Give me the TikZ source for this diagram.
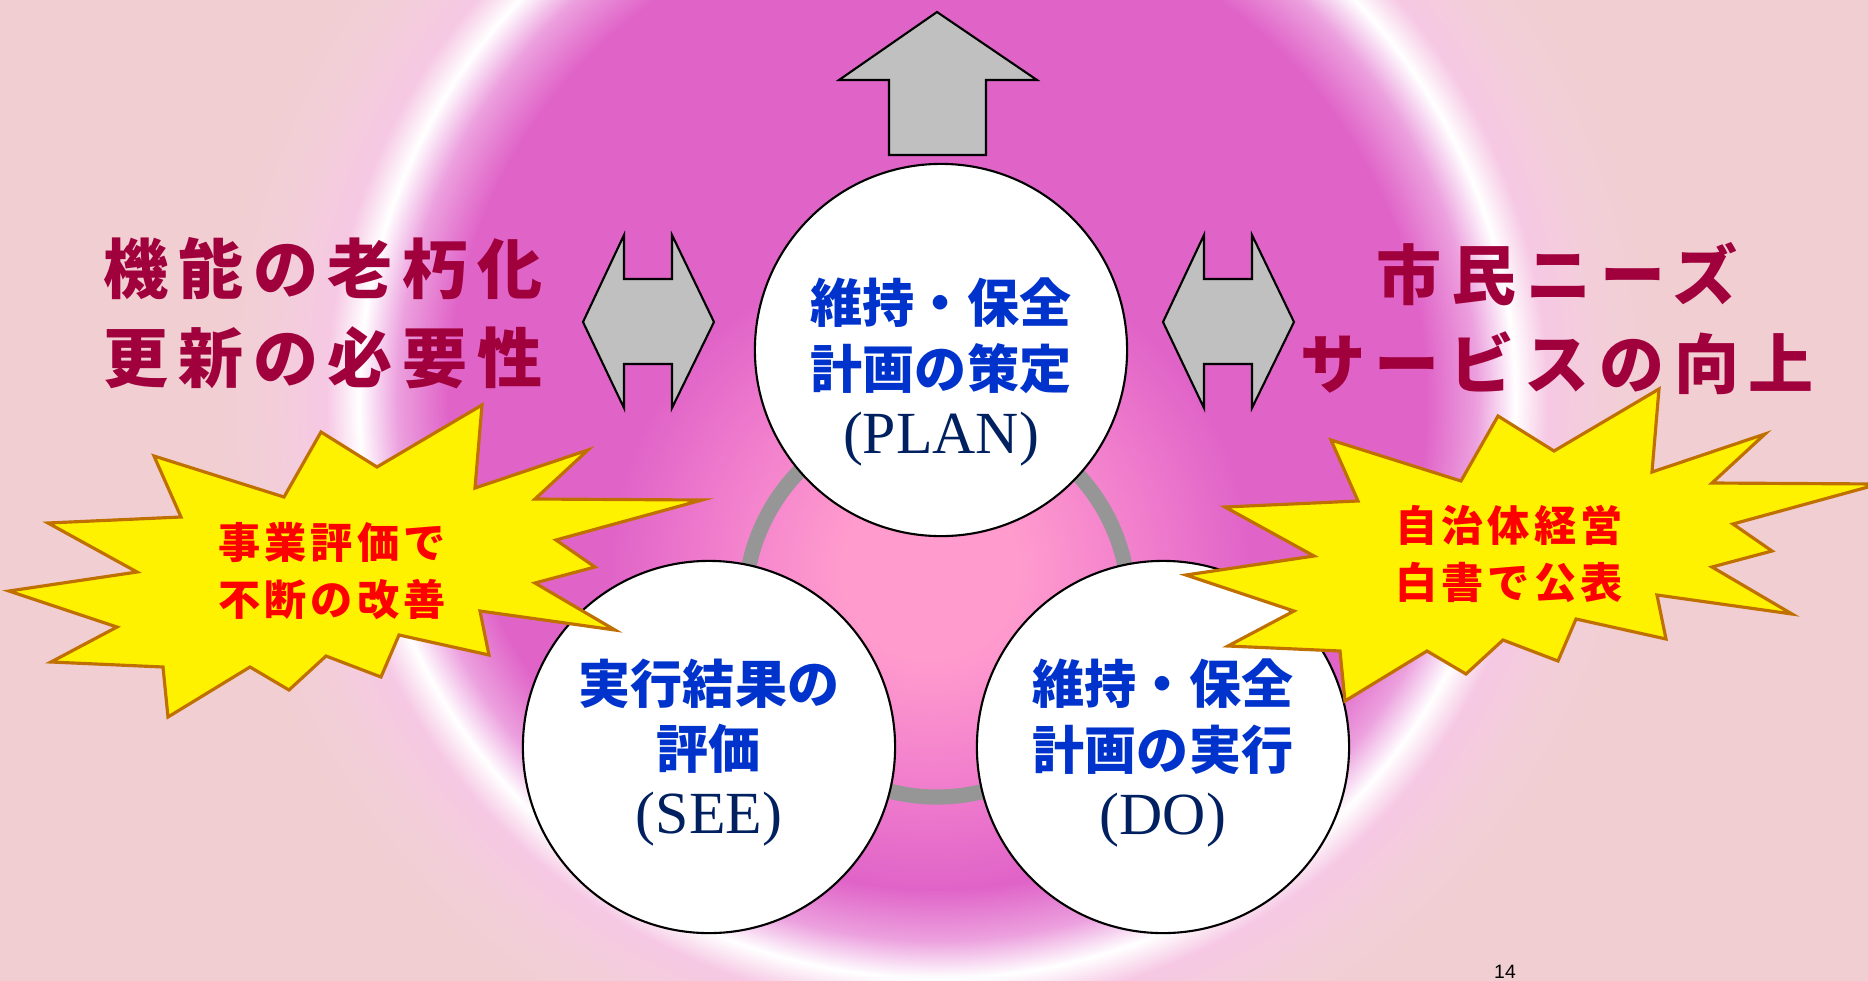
\documentclass[tikz,border=0pt]{standalone}
\usepackage{fontspec}
\setmainfont{Liberation Serif}
\newfontfamily\jpfont{Noto Sans CJK JP}
\newfontfamily\pagefont{Liberation Sans}

\definecolor{bgpink}{RGB}{241,206,210}
\definecolor{glowmag}{RGB}{224,100,200}
\definecolor{glowlilac}{RGB}{236,160,222}
\definecolor{glowhalo}{RGB}{246,200,228}
\definecolor{glowfade}{RGB}{243,206,218}
\definecolor{centerpink}{RGB}{255,155,205}
\definecolor{midpink}{RGB}{242,128,205}
\definecolor{titlered}{RGB}{160,0,60}
\definecolor{stepblue}{RGB}{0,51,204}
\definecolor{stepnavy}{RGB}{0,32,96}
\definecolor{burstedge}{RGB}{192,112,0}
\definecolor{ringgray}{RGB}{150,150,150}
\definecolor{arrowgray}{RGB}{192,192,192}

% the path's bounding box is fitted to 25bp
\pgfdeclareradialshading{bigglow}{\pgfpoint{0bp}{0bp}}{%
  color(0bp)=(glowmag); color(17bp)=(glowmag); color(18.75bp)=(glowlilac);
  color(20.07bp)=(white); color(21.2bp)=(glowhalo); color(22.9bp)=(glowfade);
  color(25bp)=(bgpink); color(50bp)=(bgpink)}
\pgfdeclareradialshading{centerglow}{\pgfpoint{0bp}{0bp}}{%
  color(0bp)=(centerpink); color(7bp)=(centerpink); color(16bp)=(midpink);
  color(25bp)=(glowmag); color(50bp)=(glowmag)}

\newcommand\stepname[1]{{\color{stepnavy}\rmfamily\mdseries\fontsize{17}{18.5}\selectfont #1}}

\begin{document}
\begin{tikzpicture}[x=0.01cm, y=-0.01cm,
    bubble/.style={circle, draw=black, line width=0.6pt, fill=white,
                   minimum size=3.72cm, inner sep=0pt},
    steptext/.style={align=center, text=stepblue,
                     font=\jpfont\bfseries\fontsize{14.8}{18.5}\selectfont},
    blockarrow/.style={draw=black, line width=0.6pt, fill=arrowgray},
    burst/.style={draw=burstedge, line width=0.9pt, fill=yellow},
    bursttext/.style={align=center, text=red,
                      font=\jpfont\bfseries\fontsize{12}{16.2}\selectfont\addfontfeature{LetterSpace=10}},
    issue/.style={align=center, text=titlered,
                  font=\jpfont\bfseries\fontsize{18.5}{25.3}\selectfont\addfontfeature{LetterSpace=15}},
    cyclering/.style={draw=ringgray, line width=4.3pt},
    pagenum/.style={anchor=north, inner sep=0pt, font=\pagefont\fontsize{5.5}{6}\selectfont}]

  \useasboundingbox (0,0) rectangle (1868,981);
  \clip (0,0) rectangle (1868,981);

  % background glow
  \fill[bgpink] (0,0) rectangle (1868,981);
  \shade[shading=bigglow] (937,400) circle (720);
  \shade[shading=centerglow] (930,570) circle (320);

  % PDCA cycle
  \draw[cyclering] (937,605) circle (192);

  \node[bubble] (plan) at (941,350) {};
  \node[bubble] (see) at (709,747) {};
  \node[bubble] (do) at (1163,747) {};

  \node[steptext] (plantext) at (941,372) {維持・保全\\計画の策定\\\stepname{(PLAN)}};
  \node[steptext] (seetext) at (709,753) {実行結果の\\評価\\\stepname{(SEE)}};
  \node[steptext] (dotext) at (1163,753) {維持・保全\\計画の実行\\\stepname{(DO)}};

  % block arrows
  \draw[blockarrow] (937,12) -- (1037,80) -- (986,80) -- (986,155)
                    -- (889,155) -- (889,80) -- (839,80) -- cycle;
  \foreach \dx in {0,580}
    \draw[blockarrow, shift={(\dx,0)}] (583,322) -- (624,235) -- (624,279)
          -- (672,279) -- (672,235) -- (714,322) -- (672,408) -- (672,364)
          -- (624,364) -- (624,408) -- cycle;

  % bursts
  \foreach \sx/\sy in {0/0,1177/-16}
    \draw[burst, shift={(\sx,\sy)}] (482,405) -- (475,488) -- (588,450)
          -- (535,499) -- (702,500) -- (556,540) -- (595,567) -- (535,583)
          -- (615,630) -- (480,611) -- (489,655) -- (399,635) -- (381,677)
          -- (326,656) -- (289,690) -- (250,667) -- (168,717) -- (163,667)
          -- (51,662) -- (117,627) -- (9,591) -- (137,572) -- (48,523)
          -- (181,517) -- (154,456) -- (284,497) -- (321,432) -- (377,467)
          -- cycle;

  \node[bursttext] (review) at (332,571) {事業評価で\\不断の改善};
  \node[bursttext] (report) at (1509,554) {自治体経営\\白書で公表};

  \node[issue] (ageing) at (323,313) {機能の老朽化\\更新の必要性};
  \node[issue] (needs) at (1557,319) {市民ニーズ\\サービスの向上};

  \node[pagenum] (pageno) at (1505,964) {14};
\end{tikzpicture}
\end{document}
